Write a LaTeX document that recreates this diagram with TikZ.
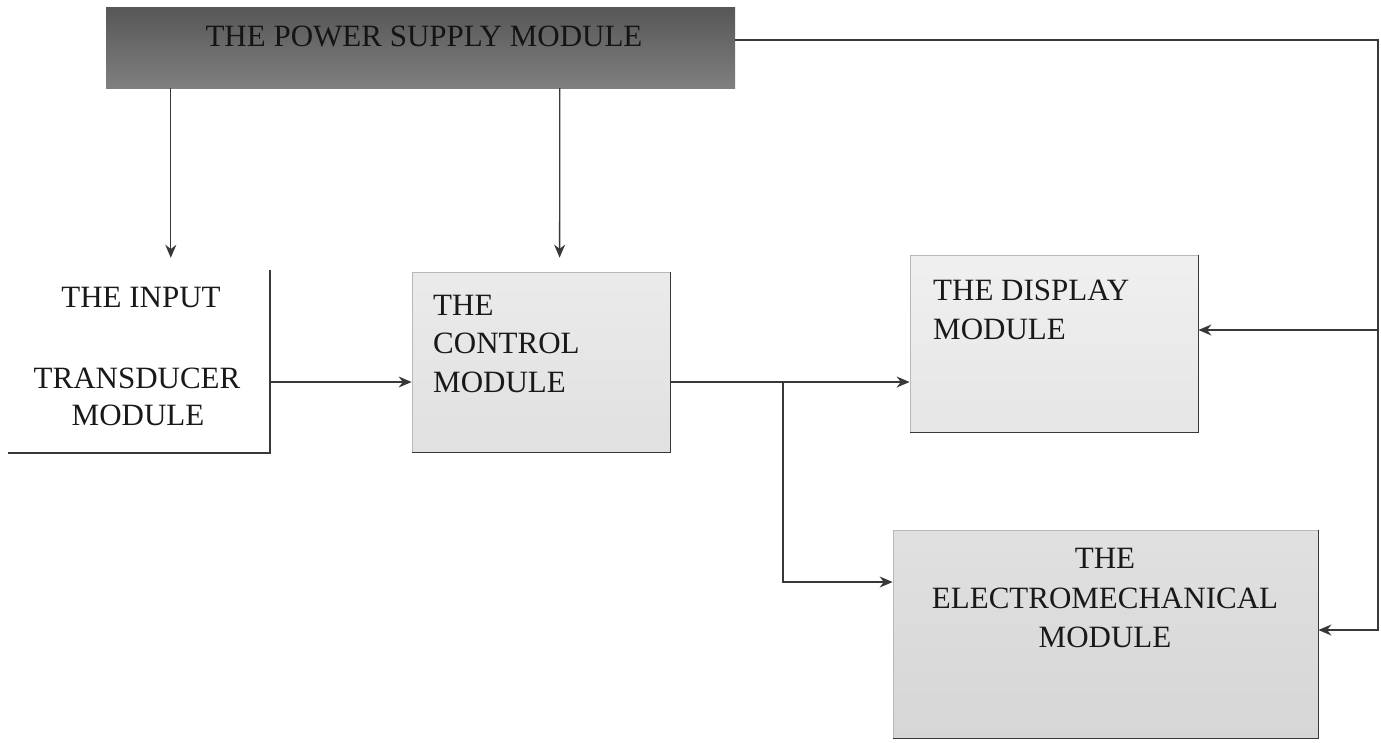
\documentclass[tikz,border=0pt]{standalone}
\usepackage{fontspec}
\setmainfont{Liberation Serif}
\usetikzlibrary{arrows.meta,calc}
\begin{document}
\begin{tikzpicture}[x=1pt,y=-1pt,
  box/.style={rectangle,inner sep=0pt,draw=black!28,line width=0.8pt},
  lbl/.style={inner sep=0pt,font=\fontsize{31}{36}\selectfont,text=black!90},
  conn/.style={draw=black!78,line width=1.3pt},
  arr/.style={conn,-{Stealth[length=13pt,width=11pt]}},
  shadowedge/.style={draw=black!78,line width=1.5pt}]
\useasboundingbox (0,0) rectangle (1381,742);
\fill[white] (0,0) rectangle (1381,742);

% boxes
\node[rectangle,inner sep=0pt,minimum width=629pt,minimum height=81pt,
      top color=black!66,bottom color=black!50] (pw) at (420.5,47.5) {};
\node[rectangle,inner sep=0pt,minimum width=270pt,minimum height=183pt,fill=white] (inp) at (135,361.5) {};
\node[box,minimum width=258pt,minimum height=180pt,
      top color=black!8,middle color=black!38,bottom color=black!12] (ctrl) at (541,362) {};
\node[box,minimum width=288pt,minimum height=177pt,
      top color=black!6,middle color=black!24,bottom color=black!10] (disp) at (1054,343.5) {};
\node[box,minimum width=425pt,minimum height=208pt,
      top color=black!12,middle color=black!42,bottom color=black!16] (elec) at (1105.5,634) {};

% darker right and bottom edges
\draw[shadowedge] (inp.north east) -- (inp.south east) -- ([xshift=8pt]inp.south west);
\draw[shadowedge] (ctrl.north east) -- (ctrl.south east) -- (ctrl.south west);
\draw[shadowedge] (disp.north east) -- (disp.south east) -- (disp.south west);
\draw[shadowedge] (elec.north east) -- (elec.south east) -- (elec.south west);

% junction coordinates
\coordinate (ja) at (783,382);
\coordinate (jc) at (783,582);
\coordinate (tr) at (1378,40);
\coordinate (jb) at (1378,330);
\coordinate (jd) at (1378,630);

% connectors
\draw[arr] ([xshift=65pt]pw.south west) -- ([xshift=171pt,yshift=12pt]inp.north west);
\draw[arr] ([xshift=454pt]pw.south west) -- ([xshift=148pt,yshift=14pt]ctrl.north west);
\draw[arr] (inp.east |- ja) -- (ctrl.west |- ja);
\draw[arr] (ctrl.east |- ja) -- (disp.west |- ja);
\draw[arr] (ja) -- (jc) -- (elec.west |- jc);
\draw[arr] (pw.east |- tr) -- (tr) -- (jd) -- (elec.east |- jd);
\draw[arr] (jb) -- (disp.east |- jb);

% texts
\node[lbl,text=black!92] (tpw) at (424,36) {THE POWER SUPPLY MODULE};
\node[lbl] (ti1) at (141,297) {THE INPUT};
\node[lbl] (ti2) at (137,378) {TRANSDUCER};
\node[lbl] (ti3) at (138,415) {MODULE};
\node[lbl,anchor=west] (tc1) at (433,305) {THE};
\node[lbl,anchor=west] (tc2) at (433,343) {CONTROL};
\node[lbl,anchor=west] (tc3) at (433,382) {MODULE};
\node[lbl,anchor=west] (td1) at (933,290) {THE DISPLAY};
\node[lbl,anchor=west] (td2) at (933,329) {MODULE};
\node[lbl] (te1) at (1105,558) {THE};
\node[lbl] (te2) at (1105,598) {ELECTROMECHANICAL};
\node[lbl] (te3) at (1105,637) {MODULE};
\end{tikzpicture}
\end{document}
